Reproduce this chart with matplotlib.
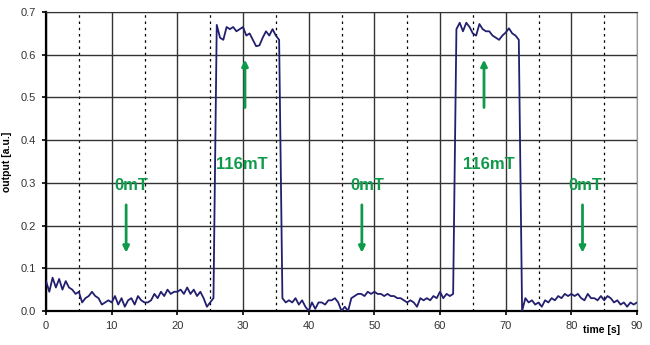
import numpy as np
import matplotlib.pyplot as plt

plt.rcParams['font.family'] = ['Liberation Sans', 'DejaVu Sans']

# time axis in seconds, one sample every 0.5 s
time_s = np.arange(0, 90.5, 0.5)

output = [
    0.07, 0.045, 0.078, 0.055, 0.075, 0.05, 0.07, 0.055, 0.05, 0.04,
    0.045, 0.02, 0.03, 0.035, 0.045, 0.035, 0.03, 0.015, 0.02, 0.025,
    0.02, 0.035, 0.015, 0.03, 0.01, 0.025, 0.03, 0.015, 0.035, 0.025,
    0.02, 0.02, 0.025, 0.04, 0.03, 0.045, 0.035, 0.05, 0.04, 0.045,
    0.045, 0.05, 0.04, 0.055, 0.04, 0.05, 0.035, 0.045, 0.03, 0.01,
    0.02, 0.03, 0.67, 0.64, 0.635, 0.665, 0.66, 0.665, 0.655, 0.66,
    0.665, 0.645, 0.65, 0.635, 0.62, 0.622, 0.64, 0.655, 0.645, 0.66,
    0.645, 0.635, 0.03, 0.02, 0.025, 0.02, 0.03, 0.015, 0.025, 0.01,
    0.0, 0.02, 0.005, 0.02, 0.02, 0.015, 0.025, 0.025, 0.03, 0.02,
    0.0, 0.01, 0.0, 0.03, 0.035, 0.04, 0.04, 0.035, 0.045, 0.04,
    0.045, 0.04, 0.04, 0.035, 0.04, 0.035, 0.035, 0.03, 0.03, 0.025,
    0.02, 0.025, 0.02, 0.01, 0.03, 0.025, 0.03, 0.025, 0.035, 0.03,
    0.045, 0.03, 0.04, 0.035, 0.04, 0.66, 0.675, 0.655, 0.675, 0.665,
    0.65, 0.645, 0.672, 0.66, 0.655, 0.655, 0.645, 0.64, 0.635, 0.645,
    0.652, 0.662, 0.65, 0.645, 0.635, 0.0, 0.03, 0.02, 0.025, 0.015,
    0.02, 0.01, 0.025, 0.02, 0.03, 0.025, 0.035, 0.03, 0.04, 0.035,
    0.04, 0.035, 0.04, 0.03, 0.025, 0.04, 0.03, 0.03, 0.025, 0.035,
    0.025, 0.035, 0.03, 0.02, 0.025, 0.015, 0.02, 0.01, 0.02, 0.015,
    0.02,
]

# field labels: (text x, arrow x, text, arrow direction)
labels = [
    (13.0, 12.2, '0mT', 'down'),
    (29.8, 30.3, '116mT', 'up'),
    (48.9, 48.1, '0mT', 'down'),
    (67.5, 66.7, '116mT', 'up'),
    (82.2, 81.7, '0mT', 'down'),
]

green = '#0f9a4a'
navy = '#231f6f'

fig = plt.figure(figsize=(6.5, 3.45), dpi=100)
ax = fig.add_axes([0.0708, 0.0986, 0.9092, 0.8664])

ax.set_xlim(0, 90)
ax.set_ylim(0, 0.7)
ax.set_xticks(np.arange(0, 91, 10))
ax.set_xticks(np.arange(5, 90, 10), minor=True)
ax.set_yticks(np.arange(0, 0.71, 0.1))
ax.set_yticklabels([f'{v:.1f}' for v in np.arange(0, 0.71, 0.1)])

ax.grid(which='major', color='#333333', linewidth=1.0)
ax.grid(which='minor', axis='x', color='black', linestyle=(0, (2, 3)), linewidth=0.9)
ax.set_axisbelow(True)

ax.plot(time_s, output, color=navy, linewidth=1.3, zorder=3)

for tx, ax_x, txt, direction in labels:
    if direction == 'down':
        ax.text(tx, 0.295, txt, color=green, fontsize=12, fontweight='bold',
                ha='center', va='center')
        ax.annotate('', xy=(ax_x, 0.13), xytext=(ax_x, 0.255),
                    arrowprops=dict(arrowstyle='-|>', color=green, lw=2, mutation_scale=9))
    else:
        ax.text(tx, 0.342, txt, color=green, fontsize=12, fontweight='bold',
                ha='center', va='center')
        ax.annotate('', xy=(ax_x, 0.595), xytext=(ax_x, 0.47),
                    arrowprops=dict(arrowstyle='-|>', color=green, lw=2, mutation_scale=9))

for side in ['left', 'bottom']:
    ax.spines[side].set_linewidth(1.6)
    ax.spines[side].set_color('black')
ax.spines['top'].set_color('#333333')
ax.spines['right'].set_color('#999999')
ax.tick_params(which='major', direction='out', length=3, width=1.2, labelsize=8,
               labelcolor='#333333', pad=4)
ax.tick_params(which='minor', length=0)

ax.set_ylabel('output [a.u.]', fontsize=7.5, fontweight='bold')
ax.yaxis.set_label_coords(-0.058, 0.5)
fig.text(0.925, 0.035, 'time [s]', fontsize=7.5, fontweight='bold', ha='center')

fig.savefig('out.png', dpi=100)
